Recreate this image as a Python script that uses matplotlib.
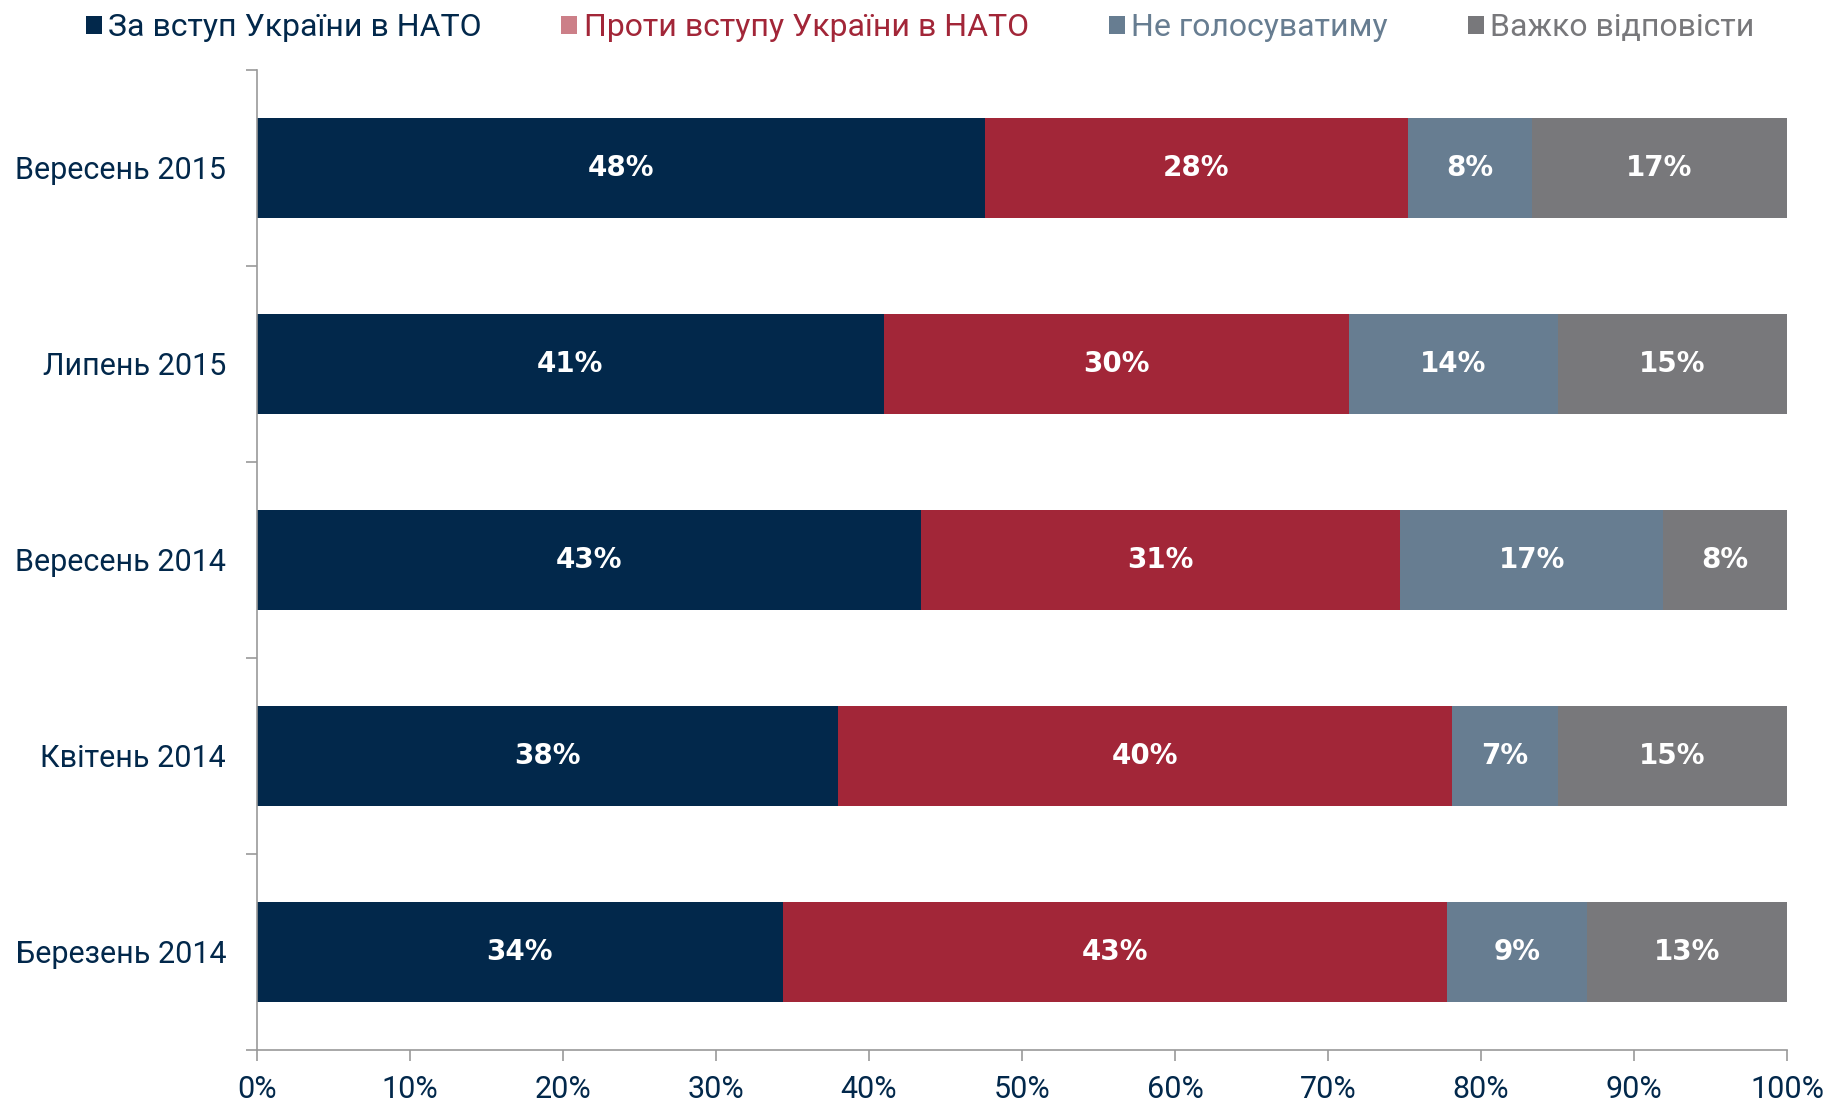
import numpy as np
import matplotlib.pyplot as plt
from matplotlib.patches import Patch

# Survey waves (top to bottom) and shares in %
periods = ["Вересень 2015", "Липень 2015", "Вересень 2014", "Квітень 2014", "Березень 2014"]
pro_nato = [47.6, 41.0, 43.4, 38.0, 34.4]
against_nato = [27.6, 30.4, 31.3, 40.1, 43.4]
wont_vote = [8.1, 13.6, 17.2, 6.9, 9.1]
hard_to_say = [16.7, 15.0, 8.1, 15.0, 13.1]

series_names = ["За вступ України в НАТО", "Проти вступу України в НАТО",
                "Не голосуватиму", "Важко відповісти"]
colors = ["#02284b", "#a22638", "#677d91", "#78787b"]
legend_marker_colors = ["#02284b", "#cc7f88", "#677d91", "#78787b"]
text_colors = ["#02284b", "#a22638", "#677d91", "#78787b"]

plt.rcParams['font.family'] = ['Roboto', 'DejaVu Sans']
fig = plt.figure(figsize=(18.33, 11.06), dpi=100)
ax = fig.add_axes([0.140, 0.051, 0.835, 0.886])

y = np.arange(len(periods))
left = np.zeros(len(periods))
for vals, col in zip([pro_nato, against_nato, wont_vote, hard_to_say], colors):
    vals = np.array(vals)
    ax.barh(y, vals, left=left, height=0.51, color=col, edgecolor='none')
    for yi, l, v in zip(y, left, vals):
        ax.text(l + v / 2, yi, f"{v:.0f}%", ha='center', va='center',
                color='white', fontsize=20, fontweight='bold',
                family=['DejaVu Sans'])
    left += vals

ax.set_xlim(0, 100)
ax.set_ylim(len(periods) - 0.5, -0.5)
ax.set_xticks(np.arange(0, 101, 10))
ax.set_xticklabels([f"{v}%" for v in range(0, 101, 10)], fontsize=22, color='#02284b')
ax.set_yticks(y)
ax.set_yticklabels(periods, fontsize=22, color='#02284b')
ax.set_yticks(np.arange(-0.5, len(periods)), minor=True)
ax.tick_params(axis='y', which='major', length=0, pad=22)
ax.tick_params(axis='y', which='minor', length=8, color='#999999', width=1.2)
ax.tick_params(axis='x', length=8, color='#999999', width=1.2, pad=10)

for s in ['top', 'right']:
    ax.spines[s].set_visible(False)
for s in ['left', 'bottom']:
    ax.spines[s].set_color('#999999')
    ax.spines[s].set_linewidth(1.2)

handles = [Patch(facecolor=c) for c in legend_marker_colors]
leg = fig.legend(handles, series_names, loc='upper left', bbox_to_anchor=(0.031, 1.014),
                 ncol=4, frameon=False, fontsize=23, handlelength=0.5, handleheight=0.5,
                 handletextpad=0.2, columnspacing=2.5)
for t, c in zip(leg.get_texts(), text_colors):
    t.set_color(c)

fig.savefig("out.png", dpi=100)
